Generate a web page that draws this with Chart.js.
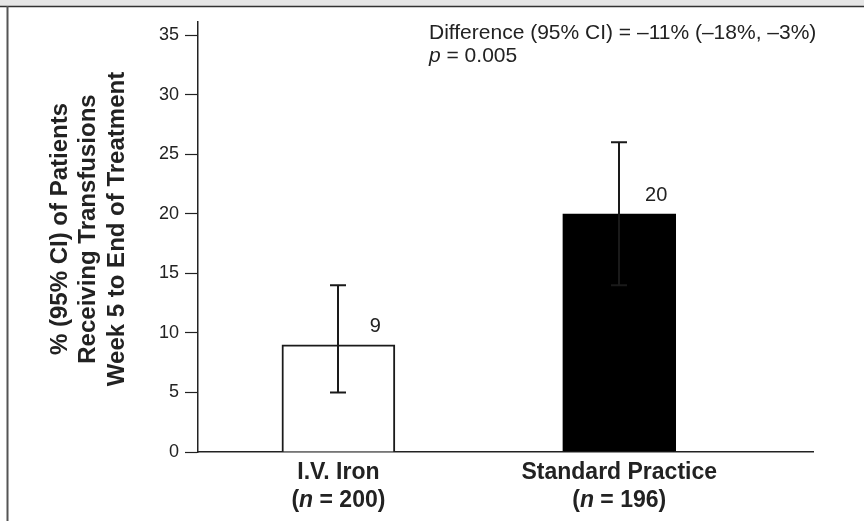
<!DOCTYPE html>
<html>
<head>
<meta charset="utf-8">
<script src="https://cdn.jsdelivr.net/npm/chart.js@4.4.1/dist/chart.umd.min.js"></script>
<style>
    body { margin: 0; background: #fff; }
    #myChart { display: block; }
</style>
</head>
<body>
<canvas id="myChart" width="864" height="521"></canvas>
<script>
// veriler
const groups = ['I.V. Iron', 'Standard Practice'];
const groupN = ['200', '196'];
const groupPos = [1, 2];
const percents = [9, 20];
const ciLow = [5, 14];
const ciHigh = [14, 26];
const yTicks = [0, 5, 10, 15, 20, 25, 30, 35];
const yTitle = ['% (95% CI) of Patients', 'Receiving Transfusions', 'Week 5 to End of Treatment'];
const diffText = 'Difference (95% CI) = \u201311% (\u201318%, \u20133%)';
const pValue = '0.005';

const FONT = '"Liberation Sans", Arial, Helvetica, sans-serif';
const INK = '#222';

const barData = groupPos.map((x, i) => ({ x: x, y: percents[i] }));

// çerçeve, hata çubukları ve yazılar
const extras = {
    id: 'extras',
    beforeDraw(chart) {
        const ctx = chart.ctx;
        ctx.save();
        ctx.fillStyle = '#e6e6e6';
        ctx.fillRect(0, 0, 864, 6);
        ctx.strokeStyle = '#333';
        ctx.lineWidth = 1.3;
        ctx.beginPath();
        ctx.moveTo(0, 6.5);
        ctx.lineTo(864, 6.5);
        ctx.stroke();
        ctx.strokeStyle = '#555';
        ctx.lineWidth = 2;
        ctx.beginPath();
        ctx.moveTo(7.5, 6);
        ctx.lineTo(7.5, 521);
        ctx.stroke();
        ctx.restore();
    },
    afterDatasetsDraw(chart) {
        const ctx = chart.ctx;
        const xs = chart.scales.x;
        const ys = chart.scales.y;
        ctx.save();

        // hata çubukları
        ctx.strokeStyle = '#1a1a1a';
        ctx.lineWidth = 2;
        groupPos.forEach((g, i) => {
            const x = Math.round(xs.getPixelForValue(g));
            const yLo = ys.getPixelForValue(ciLow[i]);
            const yHi = ys.getPixelForValue(ciHigh[i]);
            ctx.beginPath();
            ctx.moveTo(x, yLo);
            ctx.lineTo(x, yHi);
            ctx.moveTo(x - 8, yHi);
            ctx.lineTo(x + 8, yHi);
            ctx.moveTo(x - 8, yLo);
            ctx.lineTo(x + 8, yLo);
            ctx.stroke();
        });

        // değer etiketleri
        ctx.fillStyle = INK;
        ctx.font = '20px ' + FONT;
        ctx.textAlign = 'center';
        ctx.textBaseline = 'middle';
        groupPos.forEach((g, i) => {
            const x = xs.getPixelForValue(g) + 37;
            const y = ys.getPixelForValue(percents[i]) - 18;
            ctx.fillText(String(percents[i]), x, y);
        });

        // x ekseni etiketleri
        const xf = 'bold 23px ' + FONT;
        const xfi = 'italic bold 23px ' + FONT;
        ctx.textBaseline = 'alphabetic';
        groupPos.forEach((g, i) => {
            const x = xs.getPixelForValue(g);
            ctx.textAlign = 'center';
            ctx.font = xf;
            ctx.fillText(groups[i], x, 479);

            const pre = '(';
            const nTxt = 'n';
            const post = ' = ' + groupN[i] + ')';
            const w1 = ctx.measureText(pre).width;
            const w3 = ctx.measureText(post).width;
            ctx.font = xfi;
            const w2 = ctx.measureText(nTxt).width;
            let left = x - (w1 + w2 + w3) / 2;
            ctx.textAlign = 'left';
            ctx.font = xf;
            ctx.fillText(pre, left, 507);
            ctx.font = xfi;
            ctx.fillText(nTxt, left + w1, 507);
            ctx.font = xf;
            ctx.fillText(post, left + w1 + w2, 507);
        });

        // y ekseni başlığı
        ctx.font = 'bold 24px ' + FONT;
        ctx.textAlign = 'center';
        ctx.textBaseline = 'middle';
        yTitle.forEach((line, i) => {
            ctx.save();
            ctx.translate(60 + i * 28.5, 229);
            ctx.rotate(-Math.PI / 2);
            ctx.fillText(line, 0, 0);
            ctx.restore();
        });

        // fark metni
        ctx.textAlign = 'left';
        ctx.textBaseline = 'alphabetic';
        ctx.font = '21px ' + FONT;
        ctx.fillText(diffText, 429, 39);
        ctx.font = 'italic 21px ' + FONT;
        ctx.fillText('p', 429, 62);
        const pw = ctx.measureText('p').width;
        ctx.font = '21px ' + FONT;
        ctx.fillText(' = ' + pValue, 429 + pw, 62);

        ctx.restore();
    }
};

var ctx = document.getElementById('myChart');

var barChart = new Chart(ctx, {
    type: 'bar',
    data: {
        datasets: [{
            label: 'Transfusions',
            data: barData,
            backgroundColor: ['#ffffff', '#000000'],
            borderColor: ['#1a1a1a', '#000000'],
            borderWidth: 2,
            barThickness: 113
        }]
    },
    options: {
        responsive: false,
        animation: false,
        devicePixelRatio: 1,
        layout: {
            padding: { left: 0, right: 51, top: 22, bottom: 0 }
        },
        plugins: {
            legend: { display: false },
            tooltip: { enabled: false }
        },
        scales: {
            x: {
                type: 'linear',
                min: 0.5,
                max: 2.69,
                offset: false,
                afterBuildTicks: (scale) => { scale.ticks = groupPos.map(v => ({ value: v })); },
                afterFit: (scale) => { scale.height = 69; },
                ticks: { display: false },
                grid: { drawOnChartArea: false, drawTicks: false, offset: false },
                border: { display: true, color: INK, width: 1.5 }
            },
            y: {
                min: 0,
                max: 36.1,
                afterBuildTicks: (scale) => { scale.ticks = yTicks.map(v => ({ value: v })); },
                afterFit: (scale) => { scale.width = 198; },
                ticks: {
                    color: INK,
                    font: { family: FONT, size: 18 },
                    padding: 6
                },
                grid: {
                    drawOnChartArea: false,
                    drawTicks: true,
                    tickLength: 13,
                    tickColor: INK,
                    tickWidth: 1.2
                },
                border: { display: true, color: INK, width: 1.5 }
            }
        }
    },
    plugins: [extras]
});
</script>
</body>
</html>
